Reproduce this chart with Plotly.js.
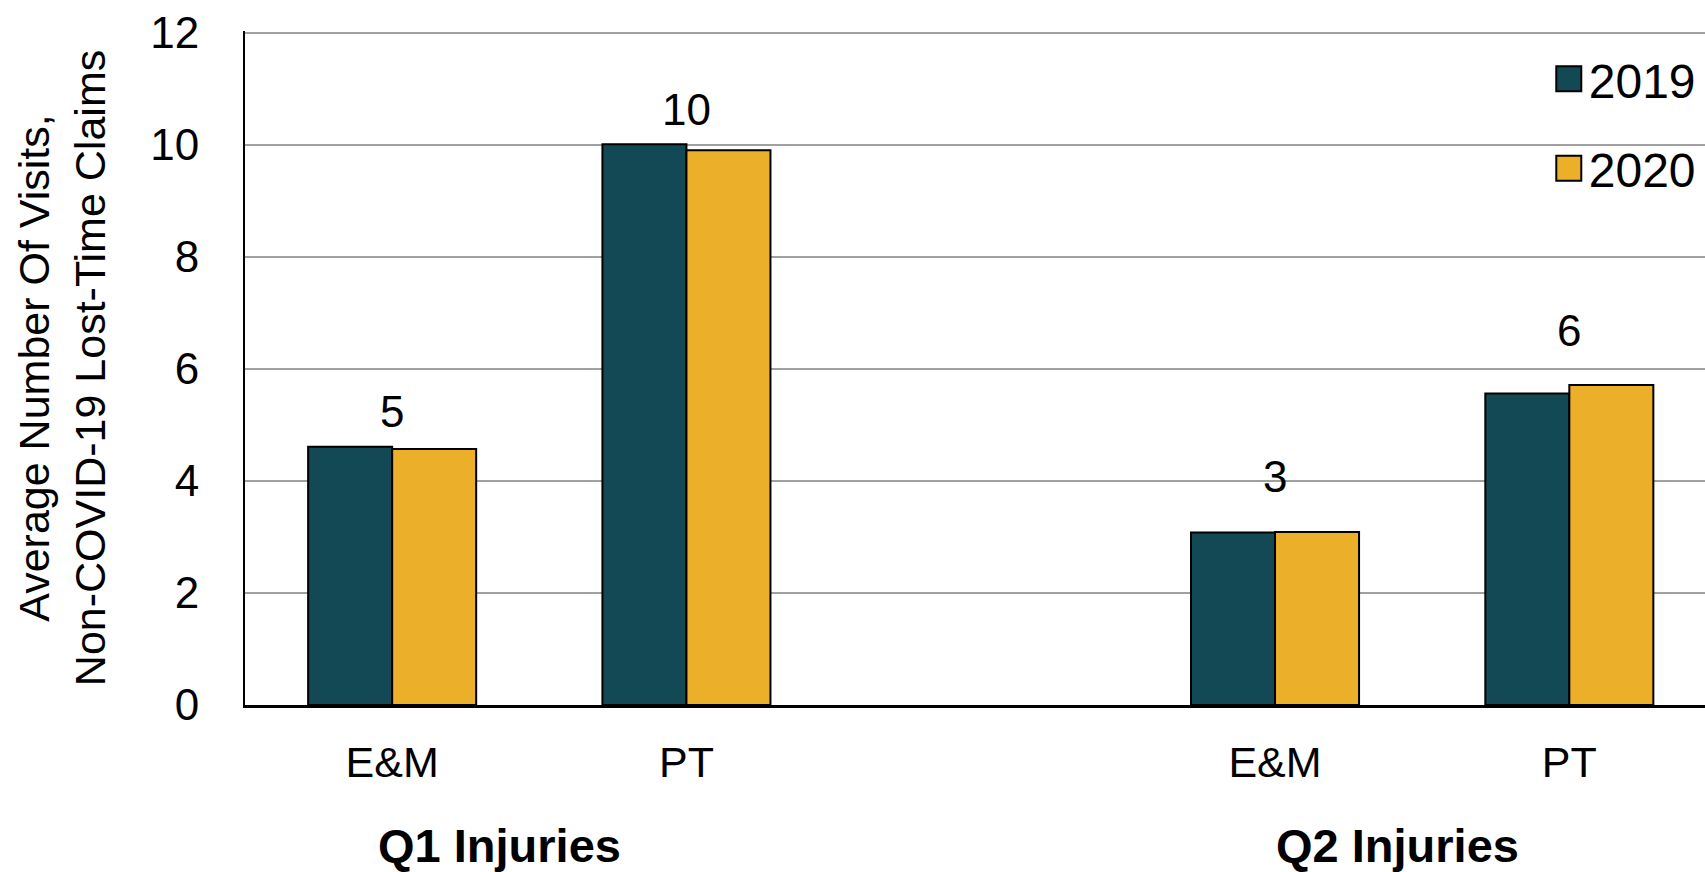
<!DOCTYPE html>
<html><head><meta charset="utf-8">
<script src="https://cdn.plot.ly/plotly-3.0.1.min.js"></script>
<style>html,body{margin:0;padding:0;background:#fff}#chart{width:1705px;height:872px}</style>
</head><body><div id="chart"></div>
<script>
// ---- data ----
const groups = ["Q1 Injuries", "Q2 Injuries"];
const services = ["E&M", "PT"];
const seriesNames = ["2019", "2020"];
const values2019 = [4.61, 10.01, 3.08, 5.56];
const values2020 = [4.57, 9.90, 3.09, 5.71];
const dataLabels = ["5", "10", "3", "6"];
const yTickVals = [0, 2, 4, 6, 8, 10, 12];
const yTitle = "Average Number Of Visits,<br>Non-COVID-19 Lost-Time Claims";

// ---- build categories: each group followed by an empty slot ----
const xPos = [], xText = [], groupOf = [];
groups.forEach((g, gi) => services.forEach((s, si) => {
  xPos.push(gi * (services.length + 1) + si);
  xText.push(s);
  groupOf.push(gi);
}));

const FONT = "Liberation Sans, Arial, sans-serif";
const colors = ["#124955", "#EBAF2A"];
const traces = [values2019, values2020].map((vals, k) => ({
  type: "bar",
  name: seriesNames[k],
  legendgroup: seriesNames[k],
  x: xPos,
  y: vals,
  marker: {color: colors[k], line: {color: "#000", width: 2}},
  hoverinfo: "skip"
}));

const labelShift = [35, 55];
const annotations = dataLabels.map((t, i) => ({
  xref: "x", yref: "y", x: xPos[i], y: Math.max(values2019[i], values2020[i]),
  text: t, showarrow: false, yanchor: "middle", yshift: labelShift[groupOf[i]],
  font: {family: FONT, size: 44, color: "#000"}
}));
const groupShift = [-40, -25];
groups.forEach((g, gi) => {
  const idx = xPos.filter((_, i) => groupOf[i] === gi);
  annotations.push({
    xref: "x", yref: "paper",
    x: (Math.min(...idx) + Math.max(...idx)) / 2, y: -0.208,
    xshift: groupShift[gi],
    text: "<b>" + g + "</b>", showarrow: false, yanchor: "middle",
    font: {family: FONT, size: 47, color: "#000"}
  });
});

const layout = {
  width: 1705, height: 872,
  margin: {l: 245, r: 0, t: 31, b: 167, pad: 0},
  paper_bgcolor: "#fff", plot_bgcolor: "#fff",
  barmode: "group", bargap: 0.429, bargroupgap: 0,
  showlegend: true,
  legend: {x: 0.893, xanchor: "left", y: 0.985, yanchor: "top",
           bgcolor: "rgba(0,0,0,0)", tracegroupgap: 24,
           font: {family: FONT, size: 48, color: "#000"}},
  xaxis: {
    range: [-0.5, 4.461], tickmode: "array", tickvals: xPos, ticktext: xText,
    showgrid: false, zeroline: false, showline: true, linecolor: "#000", linewidth: 3,
    ticks: "", ticklabelstandoff: 17,
    tickfont: {family: FONT, size: 43, color: "#000"}, fixedrange: true
  },
  yaxis: {
    range: [0, 12.03], tickmode: "array", tickvals: yTickVals,
    showgrid: true, gridcolor: "#A0A0A0", gridwidth: 2,
    zeroline: false, showline: true, linecolor: "#000", linewidth: 2,
    ticks: "", ticklabelstandoff: 35,
    tickfont: {family: FONT, size: 44, color: "#000"},
    title: {text: yTitle, standoff: 31, font: {family: FONT, size: 43, color: "#000"}},
    automargin: false, fixedrange: true
  },
  annotations: annotations
};

Plotly.newPlot("chart", traces, layout, {staticPlot: true, displayModeBar: false}).then(() => {
  document.querySelectorAll("#chart .legend .legendpoints path").forEach(p => {
    p.setAttribute("d", "M12.5,12.5H-12.5V-12.5H12.5Z");
  });
});
</script>
</body></html>
